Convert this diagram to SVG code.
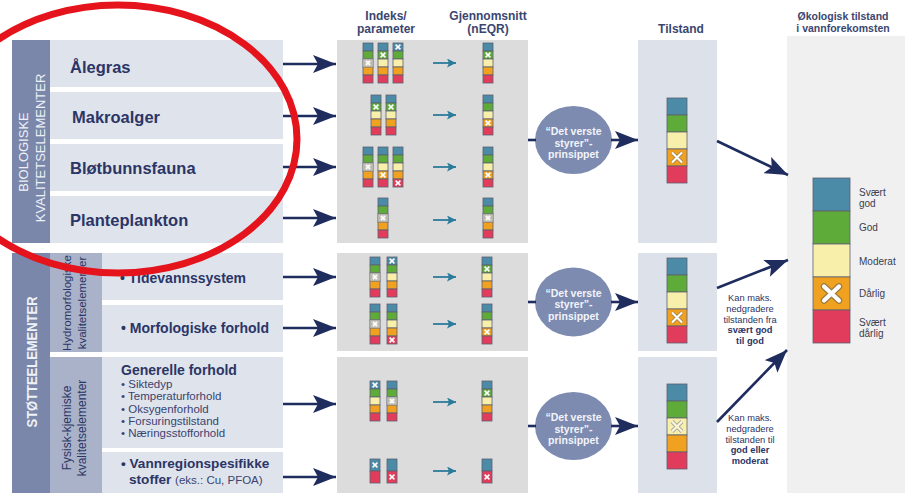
<svg xmlns="http://www.w3.org/2000/svg" xmlns:xlink="http://www.w3.org/1999/xlink" width="905" height="493" viewBox="0 0 905 493">
<style>
text{font-family:"Liberation Sans",Arial,Helvetica,sans-serif}
.nv{fill:#2b3566}
.hd{fill:#3a4670;font-weight:bold;font-size:12px;text-anchor:middle}
.big{font-weight:bold;font-size:16.5px}
.mid{font-weight:bold;font-size:14px}
.sm{font-size:11.5px;fill:#3a4470}
.vt{fill:#eef1f7;font-size:13px;text-anchor:middle}
.vt2{fill:#2b3566;font-size:11.5px;text-anchor:middle}
.el{fill:#7d8bb1}
.et{fill:#f2f4fa;font-weight:bold;font-size:10.5px;text-anchor:middle}
.nt{fill:#2b3566;font-size:9.3px;text-anchor:middle}
.lg{fill:#3a3d52;font-size:10px}
.c{stroke:#5d6070;stroke-width:0.8}
.b{fill:#4b8ba8}.g{fill:#5fab3a}.y{fill:#f8efaa}.o{fill:#f0a11f}.r{fill:#e13c5c}
.arr{stroke:#1f2c5e;stroke-width:2.6;fill:none}
.tar{stroke:#2b7b9a;stroke-width:1.8;fill:none}
</style>
<defs>
<marker id="ah" markerUnits="userSpaceOnUse" markerWidth="24" markerHeight="18" refX="23" refY="9" orient="auto">
<path d="M0,0 L23,9 L0,18 L5,9 Z" fill="#1f2c5e"/>
</marker>
<marker id="th" markerUnits="userSpaceOnUse" markerWidth="10" markerHeight="9" refX="9" refY="4.5" orient="auto">
<path d="M0,0 L9,4.5 L0,9 L2,4.5 Z" fill="#2b7b9a"/>
</marker>
<g id="bar5">
<rect x="0" y="0" width="10" height="8" class="c b"/>
<rect x="0" y="8" width="10" height="8" class="c g"/>
<rect x="0" y="16" width="10" height="8" class="c y"/>
<rect x="0" y="24" width="10" height="8" class="c o"/>
<rect x="0" y="32" width="10" height="8" class="c r"/>
</g>
<g id="bar2">
<rect x="0" y="0" width="10" height="12" class="c b"/>
<rect x="0" y="12" width="10" height="12" class="c r"/>
</g>
<g id="bart">
<rect x="0" y="0" width="20" height="17" class="c b"/>
<rect x="0" y="17" width="20" height="17" class="c g"/>
<rect x="0" y="34" width="20" height="17" class="c y"/>
<rect x="0" y="51" width="20" height="17" class="c o"/>
<rect x="0" y="68" width="20" height="17" class="c r"/>
</g>
<path id="xs" d="M-2.4,-2.4 L2.4,2.4 M2.4,-2.4 L-2.4,2.4" stroke="#ffffff" stroke-width="1.6"/>
<g id="xc">
<rect x="-5" y="-4" width="10" height="8" fill="#c9c5b8" stroke="#8c8c8c" stroke-width="0.6"/>
<circle r="3.4" fill="#d8d4cb" stroke="#9a9a9a" stroke-width="0.6"/>
<path d="M-2.2,-2.2 L2.2,2.2 M2.2,-2.2 L-2.2,2.2" stroke="#ffffff" stroke-width="1.4"/>
</g>
</defs>

<rect width="905" height="493" fill="#ffffff"/>

<!-- headers -->
<g id="headers">
<text x="386" y="19.5" class="hd">Indeks/</text>
<text x="386" y="33" class="hd">parameter</text>
<text x="488" y="19.5" class="hd">Gjennomsnitt</text>
<text x="488" y="33" class="hd">(nEQR)</text>
<text x="681" y="33" class="hd">Tilstand</text>
<text x="843" y="20" class="hd" style="font-size:10.5px">Økologisk tilstand</text>
<text x="843" y="32" class="hd" style="font-size:10.5px">i vannforekomsten</text>
</g>

<!-- biological group -->
<g id="bio-side">
<rect x="12" y="40" width="38" height="203" fill="#7a87aa"/>
<text transform="translate(28,152) rotate(-90)" class="vt">BIOLOGISKE</text>
<text transform="translate(45,148) rotate(-90)" class="vt">KVALITETSELEMENTER</text>
</g>
<g id="alegras"><rect x="50" y="40" width="233" height="47" fill="#dfe3ec"/><text x="70" y="73" class="nv big">Ålegras</text></g>
<g id="makroalger"><rect x="50" y="92" width="233" height="47" fill="#dfe3ec"/><text x="72" y="123" class="nv big">Makroalger</text></g>
<g id="blotbunnsfauna"><rect x="50" y="144" width="233" height="47" fill="#dfe3ec"/><text x="70" y="174" class="nv big">Bløtbunnsfauna</text></g>
<g id="planteplankton"><rect x="50" y="196" width="233" height="47" fill="#dfe3ec"/><text x="70" y="226" class="nv big">Planteplankton</text></g>

<!-- support group -->
<g id="stotte-side">
<rect x="12" y="253" width="38" height="240" fill="#7a87aa"/>
<text transform="translate(37,362) rotate(-90)" class="vt" style="font-weight:bold;font-size:14px" textLength="131" lengthAdjust="spacingAndGlyphs">STØTTEELEMENTER</text>
</g>
<g id="hydro-side">
<rect x="50" y="253" width="52" height="99" fill="#a9b2c8"/>
<text transform="translate(71,303) rotate(-90)" class="vt2">Hydromorfologiske</text>
<text transform="translate(86,303) rotate(-90)" class="vt2">kvalitetselementer</text>
</g>
<g id="fys-side">
<rect x="50" y="357" width="52" height="136" fill="#a9b2c8"/>
<text transform="translate(71,428) rotate(-90)" class="vt2" style="font-size:12px">Fysisk-kjemiske</text>
<text transform="translate(86,428) rotate(-90)" class="vt2" style="font-size:12px">kvalitetselementer</text>
</g>
<g id="tidevann"><rect x="102" y="253" width="181" height="47" fill="#dfe3ec"/><text x="120" y="283" class="nv mid">• Tidevannssystem</text></g>
<g id="morfologiske"><rect x="102" y="305" width="181" height="47" fill="#dfe3ec"/><text x="121" y="333" class="nv mid">• Morfologiske forhold</text></g>
<g id="generelle">
<rect x="102" y="357" width="181" height="91" fill="#dfe3ec"/>
<text x="121" y="375" class="nv mid">Generelle forhold</text>
<text x="121" y="388" class="sm">• Siktedyp</text>
<text x="121" y="400.3" class="sm">• Temperaturforhold</text>
<text x="121" y="412.6" class="sm">• Oksygenforhold</text>
<text x="121" y="424.9" class="sm">• Forsuringstilstand</text>
<text x="121" y="437.2" class="sm">• Næringsstofforhold</text>
</g>
<g id="vannregion">
<rect x="102" y="452" width="181" height="41" fill="#dfe3ec"/>
<text x="121" y="468" class="nv mid" style="font-size:13.6px">• Vannregionspesifikke</text>
<text x="129" y="484" class="nv mid" style="font-size:13.6px">stoffer <tspan class="sm" style="font-weight:normal">(eks.: Cu, PFOA)</tspan></text>
</g>

<!-- indeks / gjennomsnitt panels -->
<g id="indeks-bio">
<rect x="337" y="40" width="191" height="203" fill="#dcdcdc"/>
<use xlink:href="#bar5" x="363" y="43"/><use xlink:href="#bar5" x="378" y="43"/><use xlink:href="#bar5" x="393" y="43"/><use xlink:href="#bar5" x="483" y="43"/>
<use xlink:href="#xc" x="368" y="63"/><use xlink:href="#xs" x="383" y="55"/><use xlink:href="#xs" x="398" y="47"/><use xlink:href="#xs" x="488" y="55"/>
<use xlink:href="#bar5" x="371" y="95"/><use xlink:href="#bar5" x="386" y="95"/><use xlink:href="#bar5" x="483" y="95"/>
<use xlink:href="#xs" x="376" y="107"/><use xlink:href="#xs" x="391" y="107"/><use xlink:href="#xs" x="488" y="123"/>
<use xlink:href="#bar5" x="363" y="147"/><use xlink:href="#bar5" x="378" y="147"/><use xlink:href="#bar5" x="393" y="147"/><use xlink:href="#bar5" x="483" y="147"/>
<use xlink:href="#xc" x="368" y="167"/><use xlink:href="#xs" x="383" y="175"/><use xlink:href="#xs" x="398" y="183"/><use xlink:href="#xs" x="488" y="175"/>
<use xlink:href="#bar5" x="378" y="198"/><use xlink:href="#bar5" x="483" y="198"/>
<use xlink:href="#xc" x="383" y="218"/><use xlink:href="#xc" x="488" y="218"/>
</g>
<g id="indeks-hydro">
<rect x="337" y="253" width="191" height="98" fill="#dcdcdc"/>
<use xlink:href="#bar5" x="370" y="257"/><use xlink:href="#bar5" x="387" y="257"/><use xlink:href="#bar5" x="482" y="257"/>
<use xlink:href="#xc" x="375" y="277"/><use xlink:href="#xs" x="392" y="261"/><use xlink:href="#xs" x="487" y="269"/>
<use xlink:href="#bar5" x="370" y="304"/><use xlink:href="#bar5" x="387" y="304"/><use xlink:href="#bar5" x="482" y="304"/>
<use xlink:href="#xc" x="375" y="324"/><use xlink:href="#xs" x="392" y="340"/><use xlink:href="#xs" x="487" y="332"/>
</g>
<g id="indeks-fys">
<rect x="337" y="357" width="191" height="136" fill="#dcdcdc"/>
<use xlink:href="#bar5" x="370" y="381"/><use xlink:href="#bar5" x="387" y="381"/><use xlink:href="#bar5" x="482" y="381"/>
<use xlink:href="#xs" x="375" y="385"/><use xlink:href="#xc" x="392" y="401"/><use xlink:href="#xs" x="487" y="393"/>
<use xlink:href="#bar2" x="370" y="459"/><use xlink:href="#bar2" x="387" y="459"/><use xlink:href="#bar2" x="482" y="459"/>
<use xlink:href="#xs" x="375" y="465"/><use xlink:href="#xs" x="392" y="477"/><use xlink:href="#xs" x="487" y="477"/>
</g>

<!-- principle ellipses -->
<g id="prinsipp-bio">
<ellipse cx="573.5" cy="140" rx="38.5" ry="34" class="el"/>
<text x="573.5" y="135" class="et">“Det verste</text><text x="573.5" y="146.5" class="et">styrer”-</text><text x="573.5" y="158" class="et">prinsippet</text>
</g>
<g id="prinsipp-hydro">
<ellipse cx="573.5" cy="302" rx="38.5" ry="34.5" class="el"/>
<text x="573.5" y="296.5" class="et">“Det verste</text><text x="573.5" y="308" class="et">styrer”-</text><text x="573.5" y="319.5" class="et">prinsippet</text>
</g>
<g id="prinsipp-fys">
<ellipse cx="573.5" cy="426" rx="38.5" ry="34" class="el"/>
<text x="573.5" y="421" class="et">“Det verste</text><text x="573.5" y="432.5" class="et">styrer”-</text><text x="573.5" y="444" class="et">prinsippet</text>
</g>

<!-- tilstand -->
<g id="tilstand-bio">
<rect x="638" y="40" width="79" height="203" fill="#dde1ea"/>
<use xlink:href="#bart" x="667" y="98"/>
<path d="M672,152.5 L682,162.5 M682,152.5 L672,162.5" stroke="#9a7a40" stroke-width="3.6"/>
<path d="M672,152.5 L682,162.5 M682,152.5 L672,162.5" stroke="#ffffff" stroke-width="2.2"/>
</g>
<g id="tilstand-hydro">
<rect x="638" y="253" width="79" height="98" fill="#dde1ea"/>
<use xlink:href="#bart" x="667" y="258"/>
<path d="M672,312.5 L682,322.5 M682,312.5 L672,322.5" stroke="#9a7a40" stroke-width="3.6"/>
<path d="M672,312.5 L682,322.5 M682,312.5 L672,322.5" stroke="#ffffff" stroke-width="2.2"/>
</g>
<g id="tilstand-fys">
<rect x="638" y="357" width="79" height="136" fill="#dde1ea"/>
<use xlink:href="#bart" x="667" y="384"/>
<path d="M672,421.5 L682,431.5 M682,421.5 L672,431.5" stroke="#a8a8a0" stroke-width="4"/>
<path d="M672,421.5 L682,431.5 M682,421.5 L672,431.5" stroke="#fbf6d8" stroke-width="2.2"/>
</g>

<!-- right panel -->
<g id="okologisk">
<rect x="787" y="36" width="118" height="457" fill="#f0f0f0"/>
<rect x="813" y="178" width="37" height="33" class="c b"/>
<rect x="813" y="211" width="37" height="33" class="c g"/>
<rect x="813" y="244" width="37" height="33" class="c y"/>
<rect x="813" y="277" width="37" height="33" class="c o"/>
<rect x="813" y="310" width="37" height="33" class="c r"/>
<path d="M824,286.5 L839,300.5 M839,286.5 L824,300.5" stroke="#9a7a40" stroke-width="6.5" stroke-linecap="round"/>
<path d="M824,286.5 L839,300.5 M839,286.5 L824,300.5" stroke="#ffffff" stroke-width="4.2" stroke-linecap="round"/>
<text x="859" y="196" class="lg">Svært</text><text x="859" y="207" class="lg">god</text>
<text x="859" y="231" class="lg">God</text>
<text x="859" y="265" class="lg">Moderat</text>
<text x="859" y="297" class="lg">Dårlig</text>
<text x="859" y="326" class="lg">Svært</text><text x="859" y="337" class="lg">dårlig</text>
</g>

<!-- notes -->
<g id="note-hydro">
<text x="750" y="301" class="nt">Kan maks.</text>
<text x="750" y="311.8" class="nt">nedgradere</text>
<text x="750" y="322.6" class="nt">tilstanden fra</text>
<text x="750" y="333.4" class="nt" style="font-weight:bold">svært god</text>
<text x="750" y="344.2" class="nt" style="font-weight:bold">til god</text>
</g>
<g id="note-fys">
<text x="750" y="421" class="nt">Kan maks.</text>
<text x="750" y="431.8" class="nt">nedgradere</text>
<text x="750" y="442.6" class="nt">tilstanden til</text>
<text x="750" y="453.4" class="nt" style="font-weight:bold">god eller</text>
<text x="750" y="464.2" class="nt" style="font-weight:bold">moderat</text>
</g>

<!-- connectors -->
<g id="connectors">
<line x1="283" y1="64" x2="336" y2="64" class="arr" marker-end="url(#ah)"/>
<line x1="283" y1="116" x2="336" y2="116" class="arr" marker-end="url(#ah)"/>
<line x1="283" y1="167" x2="336" y2="167" class="arr" marker-end="url(#ah)"/>
<line x1="283" y1="218" x2="336" y2="218" class="arr" marker-end="url(#ah)"/>
<line x1="283" y1="277" x2="336" y2="277" class="arr" marker-end="url(#ah)"/>
<line x1="283" y1="328" x2="336" y2="328" class="arr" marker-end="url(#ah)"/>
<line x1="283" y1="404" x2="336" y2="404" class="arr" marker-end="url(#ah)"/>
<line x1="283" y1="477" x2="336" y2="477" class="arr" marker-end="url(#ah)"/>
<line x1="433" y1="63" x2="456" y2="63" class="tar" marker-end="url(#th)"/>
<line x1="433" y1="115" x2="456" y2="115" class="tar" marker-end="url(#th)"/>
<line x1="433" y1="167" x2="456" y2="167" class="tar" marker-end="url(#th)"/>
<line x1="433" y1="220" x2="456" y2="220" class="tar" marker-end="url(#th)"/>
<line x1="433" y1="277" x2="456" y2="277" class="tar" marker-end="url(#th)"/>
<line x1="433" y1="324" x2="456" y2="324" class="tar" marker-end="url(#th)"/>
<line x1="433" y1="402" x2="456" y2="402" class="tar" marker-end="url(#th)"/>
<line x1="433" y1="471" x2="456" y2="471" class="tar" marker-end="url(#th)"/>
<line x1="528" y1="140" x2="536" y2="140" class="arr"/>
<line x1="528" y1="302" x2="536" y2="302" class="arr"/>
<line x1="528" y1="426" x2="536" y2="426" class="arr"/>
<line x1="611" y1="140" x2="638" y2="140" class="arr" marker-end="url(#ah)"/>
<line x1="611" y1="302" x2="638" y2="302" class="arr" marker-end="url(#ah)"/>
<line x1="611" y1="426" x2="638" y2="426" class="arr" marker-end="url(#ah)"/>
<line x1="717" y1="141" x2="788" y2="175" class="arr" marker-end="url(#ah)"/>
<line x1="717" y1="288" x2="788" y2="260" class="arr" marker-end="url(#ah)"/>
<line x1="717" y1="422" x2="787" y2="350" class="arr" marker-end="url(#ah)"/>
</g>

<!-- red highlight ellipse -->
<ellipse id="highlight" cx="118" cy="139" rx="179" ry="134" fill="none" stroke="#e5131b" stroke-width="7"/>
</svg>
